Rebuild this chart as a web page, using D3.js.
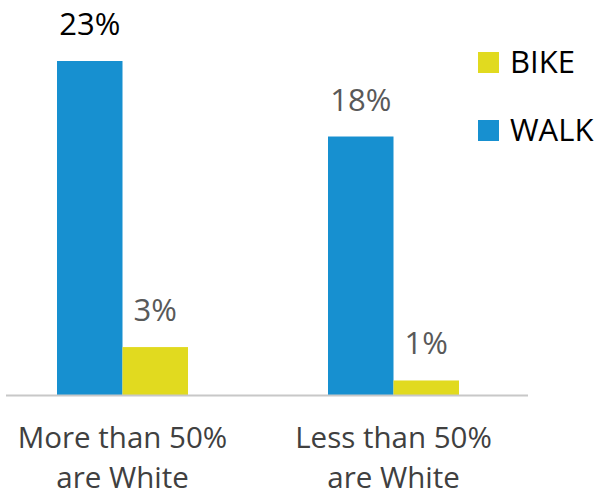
<!DOCTYPE html>
<html>
<head>
<meta charset="utf-8">
<script src="https://cdn.jsdelivr.net/npm/d3@7"></script>
<style>
  body { margin: 0; background: #fff; }
  svg text { font-family: "Open Sans", "Noto Sans", sans-serif; font-weight: 370; }
</style>
</head>
<body>
<svg id="chart" width="601" height="494"></svg>
<script>
var categories = [["More than 50%", "are White"], ["Less than 50%", "are White"]];
var series = ["WALK", "BIKE"];
var walk = [23, 17.8];
var bike = [3.3, 1.0];
var legendOrder = ["BIKE", "WALK"];

var colors = { WALK: "#1790d0", BIKE: "#e1da1f" };

var svg = d3.select("#chart"),
  baseY = 395;

var data = categories.map(function (c, i) {
  return { key: c.join(" "), lines: c, values: [
    { s: "WALK", v: walk[i] },
    { s: "BIKE", v: bike[i] }
  ] };
});

var x0 = d3.scaleBand()
  .domain(data.map(function (d) { return d.key; }))
  .range([-13, 529])
  .padding(0);

var x1 = d3.scaleBand()
  .domain(series)
  .range([x0.bandwidth() / 2 - 65.5, x0.bandwidth() / 2 + 65.5])
  .padding(0);

var y = d3.scaleLinear().domain([0, 23]).range([baseY, 61]);

var groups = svg.selectAll(".group")
  .data(data)
  .enter().append("g")
  .attr("class", "group")
  .attr("transform", function (d) { return "translate(" + x0(d.key) + ",0)"; });

groups.selectAll("rect")
  .data(function (d) { return d.values; })
  .enter().append("rect")
  .attr("x", function (d) { return x1(d.s); })
  .attr("y", function (d) { return y(d.v); })
  .attr("width", x1.bandwidth())
  .attr("height", function (d) { return baseY - y(d.v); })
  .attr("fill", function (d) { return colors[d.s]; });

groups.selectAll(".lbl")
  .data(function (d) { return d.values; })
  .enter().append("text")
  .attr("class", "lbl")
  .attr("x", function (d) { return x1(d.s) + x1.bandwidth() / 2; })
  .attr("y", function (d) { return y(d.v) - 26; })
  .attr("text-anchor", "middle")
  .attr("font-size", 31)
  .attr("fill", function (d) {
    return (d.s === "WALK" && d.v === d3.max(walk)) ? "#000" : "#595959";
  })
  .text(function (d) { return d3.format(".0f")(d.v) + "%"; });

// axis line
svg.append("line")
  .attr("x1", 6).attr("x2", 528)
  .attr("y1", baseY + 0.5).attr("y2", baseY + 0.5)
  .attr("stroke", "#c8c8c8")
  .attr("stroke-width", 2);

var xAxis = svg.append("g")
  .attr("transform", "translate(0," + baseY + ")")
  .call(d3.axisBottom(x0).tickSize(0));
xAxis.select(".domain").remove();
xAxis.selectAll(".tick text").remove();
xAxis.selectAll(".tick").append("text")
  .attr("text-anchor", "middle")
  .attr("font-size", 29.5)
  .attr("fill", "#404040")
  .each(function (k) {
    var lines = data.find(function (d) { return d.key === k; }).lines;
    var t = d3.select(this);
    lines.forEach(function (l, i) {
      t.append("tspan").attr("x", 0).attr("y", 53 + i * 40).text(l);
    });
  });

// legend
var legend = svg.selectAll(".legend")
  .data(legendOrder)
  .enter().append("g")
  .attr("class", "legend")
  .attr("transform", function (d, i) { return "translate(478," + (52 + i * 68) + ")"; });

legend.append("rect")
  .attr("width", 21).attr("height", 21)
  .attr("fill", function (d) { return colors[d]; });

legend.append("text")
  .attr("x", 32).attr("y", 21)
  .attr("font-size", 31)
  .attr("fill", "#000")
  .text(function (d) { return d; });
</script>
</body>
</html>
